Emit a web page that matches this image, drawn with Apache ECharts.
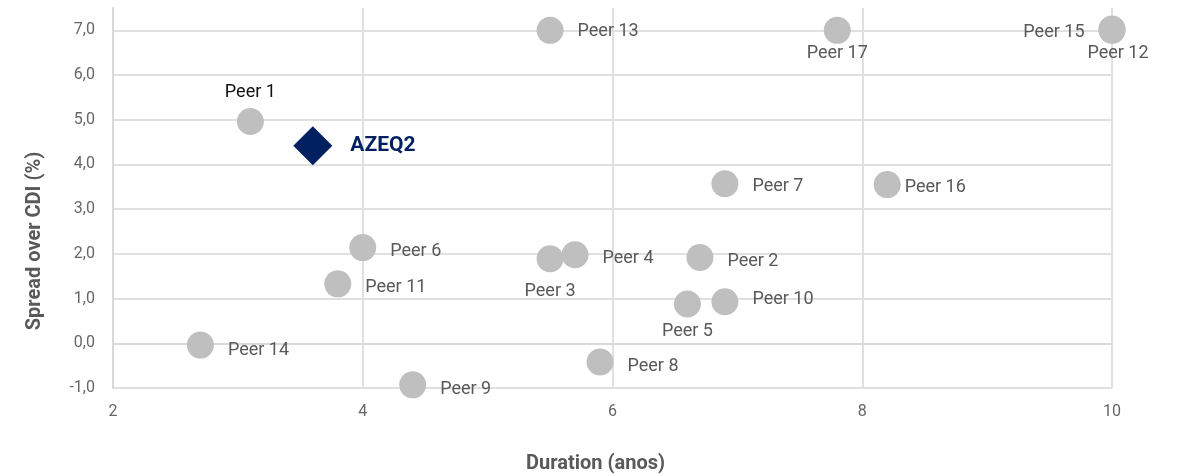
<!DOCTYPE html>
<html>
<head>
<meta charset="utf-8">
<script src="https://cdn.jsdelivr.net/npm/echarts@6/dist/echarts.min.js"></script>
<style>
  html, body { margin: 0; padding: 0; background: #fff; }
  #chart { width: 1178px; height: 476px; }
</style>
</head>
<body>
<div id="chart"></div>
<script>
// peers: name, duration (anos), spread over CDI (%)
const peerNames = ['Peer 1', 'Peer 2', 'Peer 3', 'Peer 4', 'Peer 5', 'Peer 6', 'Peer 7', 'Peer 8', 'Peer 9',
  'Peer 10', 'Peer 11', 'Peer 12', 'Peer 13', 'Peer 14', 'Peer 15', 'Peer 16', 'Peer 17']
const peerDuration = [3.1, 6.7, 5.5, 5.7, 6.6, 4.0, 6.9, 5.9, 4.4, 6.9, 3.8, 10.0, 5.5, 2.7, 10.0, 8.2, 7.8]
const peerSpread = [4.96, 1.92, 1.89, 1.98, 0.88, 2.14, 3.57, -0.42, -0.93, 0.93, 1.33, 7.0, 7.0, -0.04, 7.03, 3.55, 7.0]

const fundName = 'AZEQ2'
const fundDuration = [3.6]
const fundSpread = [4.42]

const xTicks = [2, 4, 6, 8, 10]

// onde fica cada rótulo
const labelPlace = {
  'Peer 1': { position: 'top', distance: 7, color: '#111' },
  'Peer 3': { position: 'bottom', distance: 10 },
  'Peer 5': { position: 'bottom', distance: 5 },
  'Peer 12': { position: 'bottom', distance: 1, offset: [6, 0] },
  'Peer 17': { position: 'bottom', distance: 1 },
  'Peer 15': { position: 'left', distance: 14, offset: [0, 3] },
  'Peer 16': { position: 'right', distance: 4, offset: [0, 3] },
  'Peer 2': { offset: [0, 4] },
  'Peer 11': { offset: [0, 4] },
  'Peer 14': { offset: [0, 5] },
  'Peer 8': { offset: [0, 4] },
  'Peer 9': { offset: [0, 5] },
  'Peer 10': { offset: [0, -2] },
  'Peer 13': { offset: [0, 1] },
  'Peer 6': { offset: [0, 4] },
  'Peer 7': { offset: [0, 3] },
  'Peer 4': { offset: [0, 4] }
}

const peerData = peerNames.map((name, i) => {
  const lp = labelPlace[name] || {}
  return {
    name: name,
    value: [peerDuration[i], peerSpread[i]],
    label: {
      position: lp.position || 'right',
      distance: lp.distance == null ? 14 : lp.distance,
      offset: lp.offset || [0, 0],
      color: lp.color || '#595959'
    }
  }
})

const fmtComma = v => v.toFixed(1).replace('.', ',')

const chart = echarts.init(document.getElementById('chart'))
chart.setOption({
  animation: false,
  textStyle: { fontFamily: 'Roboto' },
  grid: { left: 113, right: 66, top: 8, bottom: 88, outerBoundsMode: 'none' },
  xAxis: {
    type: 'value',
    min: xTicks[0],
    max: xTicks[xTicks.length - 1],
    interval: 2,
    name: 'Duration (anos)',
    nameLocation: 'middle',
    nameGap: 66,
    nameTextStyle: { fontSize: 20, fontWeight: 'bold', color: '#595959', padding: [0, 34, 0, 0] },
    axisLine: { show: true, lineStyle: { color: '#d9d9d9', width: 2 } },
    axisTick: { show: false },
    axisLabel: { color: '#666', fontSize: 16, margin: 16 },
    splitLine: { show: true, lineStyle: { color: '#e0e0e0', width: 2 } }
  },
  yAxis: {
    type: 'value',
    min: -1,
    max: 7.5,
    interval: 1,
    name: 'Spread over CDI (%)',
    nameLocation: 'middle',
    nameGap: 68,
    nameTextStyle: { fontSize: 20, fontWeight: 'bold', color: '#595959', padding: [0, 86, 0, 0] },
    axisLine: { show: true, lineStyle: { color: '#d9d9d9', width: 2 } },
    axisTick: { show: false },
    axisLabel: { color: '#666', fontSize: 16, margin: 18, showMaxLabel: false, formatter: fmtComma },
    splitLine: { show: true, showMaxLine: false, lineStyle: { color: '#e0e0e0', width: 2 } }
  },
  series: [
    {
      name: 'Peers',
      type: 'scatter',
      symbol: 'circle',
      symbolSize: 27,
      itemStyle: { color: '#bfbfbf', opacity: 1 },
      label: {
        show: true,
        formatter: '{b}',
        fontSize: 18,
        color: '#595959'
      },
      data: peerData
    },
    {
      name: fundName,
      type: 'scatter',
      symbol: 'diamond',
      symbolSize: [39, 39],
      itemStyle: { color: '#002060', opacity: 1 },
      label: {
        show: true,
        position: 'right',
        distance: 18,
        formatter: '{b}',
        fontSize: 21,
        fontWeight: 'bold',
        color: '#002060'
      },
      data: fundDuration.map((d, i) => ({ name: fundName, value: [d, fundSpread[i]] }))
    }
  ]
})
</script>
</body>
</html>
